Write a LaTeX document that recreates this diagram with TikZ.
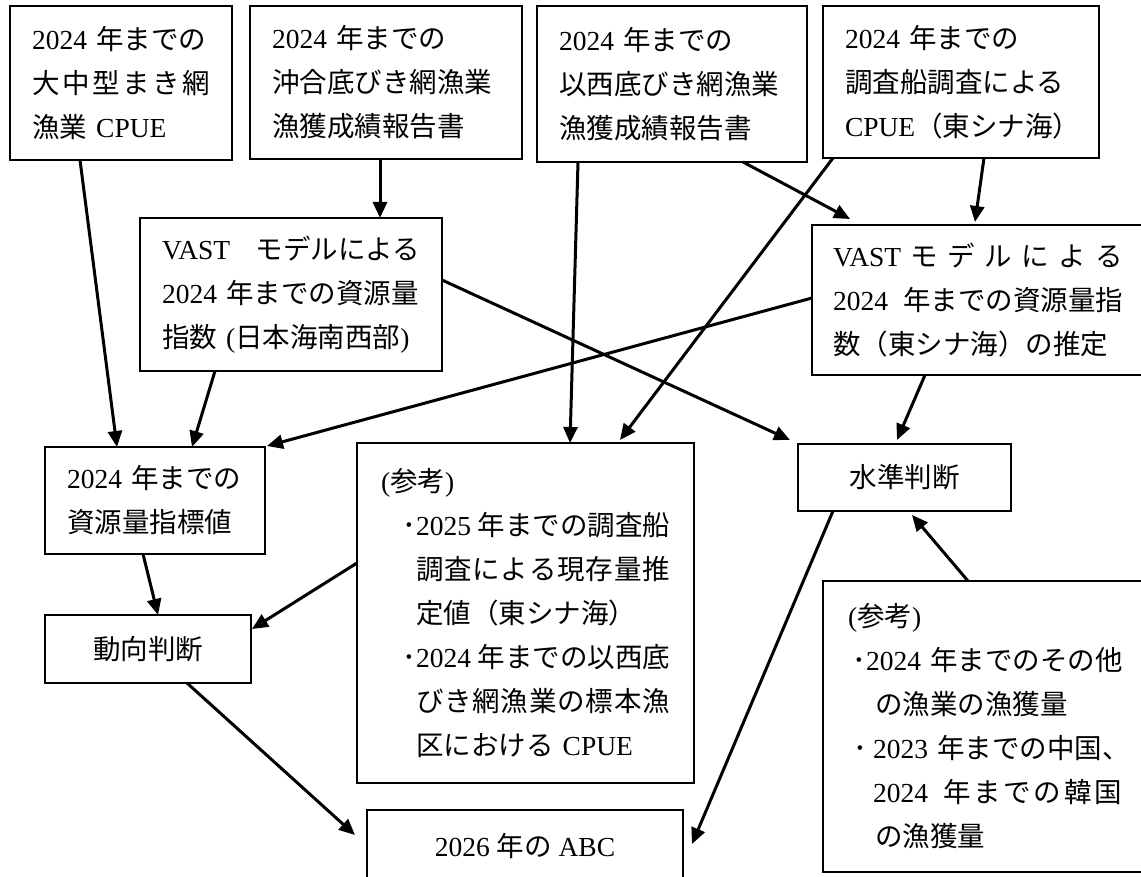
\documentclass[tikz,border=0pt]{standalone}
\usepackage{fontspec}
\setmainfont{Liberation Serif}
\newfontfamily\jpfont{Noto Sans CJK JP}
\usetikzlibrary{arrows.meta,calc}
\XeTeXinterchartokenstate=1
\newXeTeXintercharclass\jpclass
\newcount\jpcnt
\newcommand\setjprange[2]{\jpcnt=#1\relax\loop\XeTeXcharclass\jpcnt=\jpclass\relax\ifnum\jpcnt<#2\relax\advance\jpcnt by 1\relax\repeat}
\setjprange{"3000}{"30FF}
\setjprange{"4E00}{"9FFF}
\setjprange{"FF00}{"FFEF}
\XeTeXinterchartoks 0 \jpclass = {\jpfont}
\XeTeXinterchartoks 4095 \jpclass = {\jpfont}
\XeTeXinterchartoks \jpclass 0 = {\rmfamily}
\XeTeXinterchartoks \jpclass 4095 = {\rmfamily}
\newcommand\sprd[2]{\leavevmode\hbox to #1{#2}}
\begin{document}
\begin{tikzpicture}[x=1pt,y=-1pt,
  box/.style={draw, line width=2.5pt, outer sep=0pt, inner ysep=0pt, inner xsep=22pt, anchor=north west, font=\fontsize{27.5}{44}\selectfont},
  tbox/.style={box, align=left},
  arr/.style={line width=3pt, -{Triangle[length=16pt,width=14pt]}}]
\useasboundingbox (0,0) rectangle (1141,877);

\node[tbox, text width=178pt, minimum height=154pt] (A) at (10,6)
  {2024~年までの\\\sprd{178pt}{大\hfill 中\hfill 型\hfill ま\hfill き\hfill 網}\\漁業~CPUE};
\node[tbox, text width=228pt, minimum height=153pt] (B) at (250,6)
  {2024~年までの\\沖合底びき網漁業\\漁獲成績報告書};
\node[tbox, text width=226pt, minimum height=156pt] (C) at (537,6)
  {2024~年までの\\以西底びき網漁業\\漁獲成績報告書};
\node[tbox, text width=232pt, minimum height=152pt] (D) at (823,6)
  {2024~年までの\\調査船調査による\\CPUE（東シナ海）};
\node[tbox, text width=258pt, minimum height=153pt] (E) at (140,218)
  {\sprd{258pt}{VAST\hfill モデルによる}\\2024~年までの資源量\\指数~(日本海南西部)};
\node[tbox, text width=290pt, inner xsep=21pt, minimum height=150pt] (F) at (812,225)
  {\sprd{290pt}{VAST\hfill モ\hfill デ\hfill ル\hfill に\hfill よ\hfill る}\\\sprd{290pt}{2024\hfill 年までの資源量指}\\数（東シナ海）の推定};
\node[tbox, text width=176pt, minimum height=107pt] (G) at (45,447)
  {2024~年までの\\資源量指標値};
\node[box, minimum width=206pt, minimum height=68pt] (H) at (45,615) {動向判断};
\node[tbox, text width=289pt, inner xsep=24pt, minimum height=340pt] (I) at (357,443)
  {(参考)\\
   \makebox[35pt][r]{･}\sprd{254pt}{2025\hfill 年までの調査船}\\
   \hspace*{35pt}\sprd{254pt}{調\hfill 査\hfill に\hfill よ\hfill る\hfill 現\hfill 存\hfill 量\hfill 推}\\
   \hspace*{35pt}定値（東シナ海）\\
   \makebox[35pt][r]{･}\sprd{254pt}{2024\hfill 年までの以西底}\\
   \hspace*{35pt}\sprd{254pt}{び\hfill き\hfill 網\hfill 漁\hfill 業\hfill の\hfill 標\hfill 本\hfill 漁}\\
   \hspace*{35pt}区における~CPUE};
\node[box, minimum width=213pt, minimum height=67pt] (J) at (798,444) {水準判断};
\node[tbox, text width=274pt, inner xsep=25pt, minimum height=291pt] (K) at (823,581)
  {(参考)\\
   \makebox[18pt][r]{･}2024~年までのその他\\
   \hspace*{27pt}の漁業の漁獲量\\
   \makebox[25pt][c]{･}2023~年までの中国、\\
   \hspace*{25pt}\sprd{249pt}{2024\hspace{15pt}年\hfill ま\hfill で\hfill の\hfill 韓\hfill 国}\\
   \hspace*{27pt}の漁獲量};
\node[box, minimum width=316pt, minimum height=72pt] (ABC) at (367,810) {2026~年の~ABC};

\draw[arr] ($(A.south west)+(70,0)$) -- ($(G.north west)+(72,0)$);
\draw[arr] ($(B.south west)+(130,0)$) -- ($(E.north west)+(240,0)$);
\draw[arr] ($(E.south west)+(75,0)$) -- ($(G.north west)+(147,0)$);
\draw[arr] ($(F.north west)+(0,73)$) -- ($(G.north east)+(2,-1)$);
\draw[arr] ($(E.north east)+(0,62)$) -- ($(J.north west)+(-8,-4)$);
\draw[arr] ($(C.south west)+(41,0)$) -- ($(I.north west)+(213,0)$);
\draw[arr] ($(D.south west)+(10,0)$) -- ($(I.north west)+(263,-3)$);
\draw[arr] ($(C.south west)+(206,0)$) -- ($(F.north west)+(38,-6)$);
\draw[arr] ($(D.south west)+(161,0)$) -- ($(F.north west)+(163,-3)$);
\draw[arr] ($(F.south west)+(113,0)$) -- ($(J.north west)+(99,-4)$);
\draw[arr] ($(G.south west)+(98,0)$) -- ($(H.north west)+(113,0)$);
\draw[arr] ($(I.north west)+(0,120)$) -- ($(H.north east)+(1,14)$);
\draw[arr] ($(H.south west)+(142,0)$) -- ($(ABC.north west)+(-12,25)$);
\draw[arr] ($(J.south west)+(35,0)$) -- ($(ABC.north east)+(9,34)$);
\draw[arr] ($(K.north west)+(145,0)$) -- ($(J.south west)+(114,4)$);
\end{tikzpicture}
\end{document}
